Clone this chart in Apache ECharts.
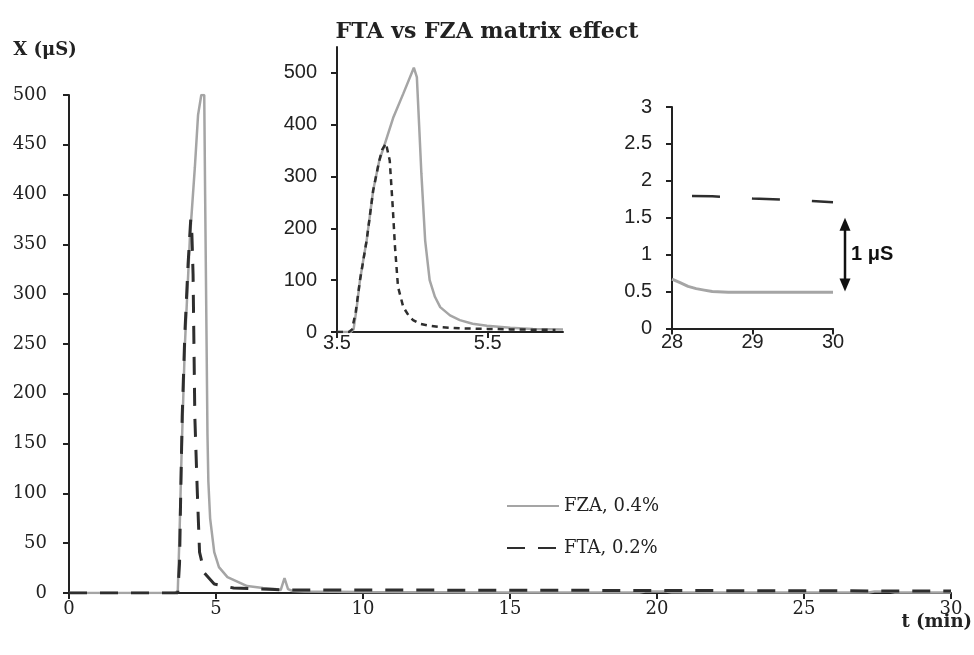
<!DOCTYPE html>
<html>
<head>
<meta charset="utf-8">
<script src="https://cdn.jsdelivr.net/npm/echarts@6/dist/echarts.min.js"></script>
<style>
html,body{margin:0;padding:0;background:#fff;}
#chart{width:974px;height:655px;}
</style>
</head>
<body>
<div id="chart"></div>
<script>
// ---------- data ----------
const titleText = 'FTA vs FZA matrix effect';
const seriesNames = ['FZA, 0.4%', 'FTA, 0.2%'];
const xAxisTitle = 't (min)';
const yAxisTitle = 'X (μS)';

// main chart (0 - 30 min)
const mainFzaT = [0, 3.6, 3.7, 3.76, 3.83, 3.94, 4.11, 4.28, 4.39, 4.5, 4.6, 4.63, 4.68, 4.71, 4.74, 4.8, 4.94, 5.1, 5.39, 6.06, 6.6, 7.0, 7.2, 7.33, 7.45, 7.6, 8.0, 10, 12, 15, 19.4, 19.6, 20.3, 20.5, 22, 25, 27.2, 27.4, 27.9, 28.1, 30];
const mainFzaV = [0, 0, 2, 60, 141, 248, 355, 427, 480, 500, 500, 400, 250, 159, 112, 75, 41, 26, 16, 7, 5, 4, 3, 15, 4, 2, 1.5, 1, 0.8, 0.6, 0.6, 1.6, 1.6, 0.8, 0.6, 0.5, 0.5, 1.6, 1.6, 0.6, 0.5];
const mainFtaT = [0, 3.7, 3.76, 3.8, 3.85, 3.94, 4.05, 4.14, 4.18, 4.22, 4.28, 4.36, 4.44, 4.61, 4.94, 5.6, 6.5, 7.0, 7.5, 8, 10, 15, 20, 25, 30];
const mainFtaV = [0, 0, 30, 100, 177, 260, 330, 375, 360, 320, 177, 105, 41, 20, 9, 5, 4, 3.5, 3, 3, 3, 2.8, 2.5, 2.2, 2];

// inset 1 (3.5 - 6.5 min)
const in1FzaT = [3.5, 3.68, 3.72, 3.76, 3.805, 3.85, 3.894, 3.98, 4.06, 4.137, 4.25, 4.38, 4.52, 4.56, 4.59, 4.62, 4.67, 4.73, 4.8, 4.87, 5.0, 5.13, 5.3, 5.49, 5.8, 6.1, 6.5];
const in1FzaV = [0, 0, 5, 45, 100, 140, 177, 273, 330, 364, 415, 460, 510, 492, 400, 306, 177, 100, 68, 48, 32, 23, 16, 12, 8, 6, 5];
const in1FtaT = [3.5, 3.66, 3.7, 3.75, 3.805, 3.894, 3.98, 4.06, 4.1, 4.15, 4.2, 4.24, 4.27, 4.31, 4.38, 4.45, 4.51, 4.6, 4.73, 4.9, 5.13, 5.5, 5.8, 6.1, 6.4];
const in1FtaV = [0, 0, 5, 40, 100, 177, 273, 330, 352, 364, 331, 241, 164, 87, 48, 32, 23, 16, 12, 9, 7, 6, 5, 4.5, 4];
const in1XTicks = [3.5, 5.5];
const in1YTicks = [0, 100, 200, 300, 400, 500];

// inset 2 (28 - 30 min)
const in2FzaT = [28, 28.1, 28.2, 28.3, 28.4, 28.5, 28.7, 29, 29.5, 30];
const in2FzaV = [0.67, 0.62, 0.57, 0.54, 0.52, 0.5, 0.49, 0.49, 0.49, 0.49];
const in2FtaT = [28, 28.5, 29, 29.5, 30];
const in2FtaV = [1.8, 1.79, 1.76, 1.74, 1.71];
const arrowLabel = '1 μS';
const arrowFrom = 0.5, arrowTo = 1.5;

// ---------- helpers ----------
const pairs = (t, v) => t.map((x, i) => [x, v[i]]);
const serif = 'DejaVu Serif';
const sans = 'Liberation Sans';
const GRAY = '#a5a5a5', DARK = '#2e2e2e', AX = '#222';

const axisCommon = (font, size) => ({
  axisLine: { lineStyle: { color: AX, width: 2 } },
  axisTick: { length: 6, lineStyle: { color: AX, width: 2 } },
  splitLine: { show: false },
  axisLabel: { color: '#222', fontFamily: font, fontSize: size }
});

const chart = echarts.init(document.getElementById('chart'), null, { renderer: 'canvas' });

const option = {
  animation: false,
  backgroundColor: '#fff',
  title: {
    text: titleText, left: 'center', top: 16,
    textStyle: { fontFamily: serif, fontWeight: 'bold', fontSize: 22, color: '#222' }
  },
  legend: {
    orient: 'vertical', left: 506, top: 497, padding: 0,
    itemWidth: 52, itemHeight: 14, itemGap: 24,
    data: seriesNames,
    itemStyle: { opacity: 0 },
    textStyle: { fontFamily: serif, fontSize: 18, color: '#222' }
  },
  grid: [
    { left: 69, right: 23, top: 95, bottom: 62, outerBoundsMode: 'none' },
    { left: 337, top: 47, width: 226, height: 285, outerBoundsMode: 'none' },
    { left: 672, top: 107, width: 161, height: 221.5, outerBoundsMode: 'none' }
  ],
  xAxis: [
    Object.assign(axisCommon(serif, 18), {
      gridIndex: 0, type: 'value', min: 0, max: 30, interval: 5
    }),
    Object.assign(axisCommon(sans, 20), {
      gridIndex: 1, type: 'value', min: 3.5, max: 6.5,
      axisTick: { length: 6, lineStyle: { color: AX, width: 2 }, customValues: in1XTicks },
    }),
    Object.assign(axisCommon(sans, 20), {
      gridIndex: 2, type: 'value', min: 28, max: 30, interval: 1
    })
  ],
  yAxis: [
    Object.assign(axisCommon(serif, 18), {
      gridIndex: 0, type: 'value', min: 0, max: 500, interval: 50,
      name: yAxisTitle, nameLocation: 'end', nameGap: 36,
      nameTextStyle: { fontFamily: serif, fontWeight: 'bold', fontSize: 18, color: '#222', align: 'center', padding: [0, 48, 0, 0] }
    }),
    Object.assign(axisCommon(sans, 20), {
      gridIndex: 1, type: 'value', min: 0, max: 550,
      axisTick: { length: 6, lineStyle: { color: AX, width: 2 }, customValues: in1YTicks },
    }),
    Object.assign(axisCommon(sans, 20), {
      gridIndex: 2, type: 'value', min: 0, max: 3, interval: 0.5
    })
  ],
  series: [
    { name: seriesNames[0], type: 'line', xAxisIndex: 0, yAxisIndex: 0, symbol: 'none', z: 2,
      lineStyle: { color: GRAY, width: 2.5 }, itemStyle: { color: GRAY }, data: pairs(mainFzaT, mainFzaV) },
    { name: seriesNames[1], type: 'line', xAxisIndex: 0, yAxisIndex: 0, symbol: 'none', z: 3,
      lineStyle: { color: DARK, width: 3, type: [18, 13] }, itemStyle: { color: DARK }, data: pairs(mainFtaT, mainFtaV) },
    { name: seriesNames[0], type: 'line', xAxisIndex: 1, yAxisIndex: 1, symbol: 'none', z: 2,
      lineStyle: { color: GRAY, width: 2.5 }, itemStyle: { color: GRAY }, data: pairs(in1FzaT, in1FzaV) },
    { name: seriesNames[1], type: 'line', xAxisIndex: 1, yAxisIndex: 1, symbol: 'none', z: 3,
      lineStyle: { color: DARK, width: 2.5, type: [6, 5] }, itemStyle: { color: DARK }, data: pairs(in1FtaT, in1FtaV) },
    { name: seriesNames[0], type: 'line', xAxisIndex: 2, yAxisIndex: 2, symbol: 'none', z: 2,
      lineStyle: { color: GRAY, width: 3 }, itemStyle: { color: GRAY }, data: pairs(in2FzaT, in2FzaV) },
    { name: seriesNames[1], type: 'line', xAxisIndex: 2, yAxisIndex: 2, symbol: 'none', z: 3,
      lineStyle: { color: DARK, width: 2.5, type: [28, 32], dashOffset: 40 }, itemStyle: { color: DARK }, data: pairs(in2FtaT, in2FtaV) }
  ]
};
// custom label values for inset 1
option.xAxis[1].axisLabel = Object.assign({}, option.xAxis[1].axisLabel, { customValues: in1XTicks, margin: 1 });
option.yAxis[1].axisLabel = Object.assign({}, option.yAxis[1].axisLabel, { customValues: in1YTicks, margin: 20 });
option.xAxis[0].axisLabel.margin = 7;
option.yAxis[0].axisLabel.margin = 22;
option.xAxis[2].axisLabel.margin = 4;
option.yAxis[2].axisLabel.margin = 20;

chart.setOption(option);

// x-axis title and arrow annotation
const pEnd = chart.convertToPixel({ gridIndex: 0 }, [30, 0]);
const pTop = chart.convertToPixel({ gridIndex: 2 }, [30, arrowTo]);
const pBot = chart.convertToPixel({ gridIndex: 2 }, [30, arrowFrom]);
const ax = pTop[0] + 12;
chart.setOption({
  graphic: [
    { type: 'text', x: pEnd[0] + 21, y: pEnd[1] + 20, style: { text: xAxisTitle, font: 'bold 18px "DejaVu Serif"', fill: '#222', align: 'right', verticalAlign: 'top' } },
    { type: 'line', shape: { x1: ax, y1: pTop[1] + 10, x2: ax, y2: pBot[1] - 10 }, style: { stroke: '#111', lineWidth: 2.5 } },
    { type: 'polygon', shape: { points: [[ax, pTop[1]], [ax - 5.5, pTop[1] + 13], [ax + 5.5, pTop[1] + 13]] }, style: { fill: '#111' } },
    { type: 'polygon', shape: { points: [[ax, pBot[1]], [ax - 5.5, pBot[1] - 13], [ax + 5.5, pBot[1] - 13]] }, style: { fill: '#111' } },
    { type: 'text', x: ax + 6, y: (pTop[1] + pBot[1]) / 2, style: { text: arrowLabel, font: 'bold 20px "Liberation Sans"', fill: '#111', verticalAlign: 'middle' } }
  ]
});
</script>
</body>
</html>
